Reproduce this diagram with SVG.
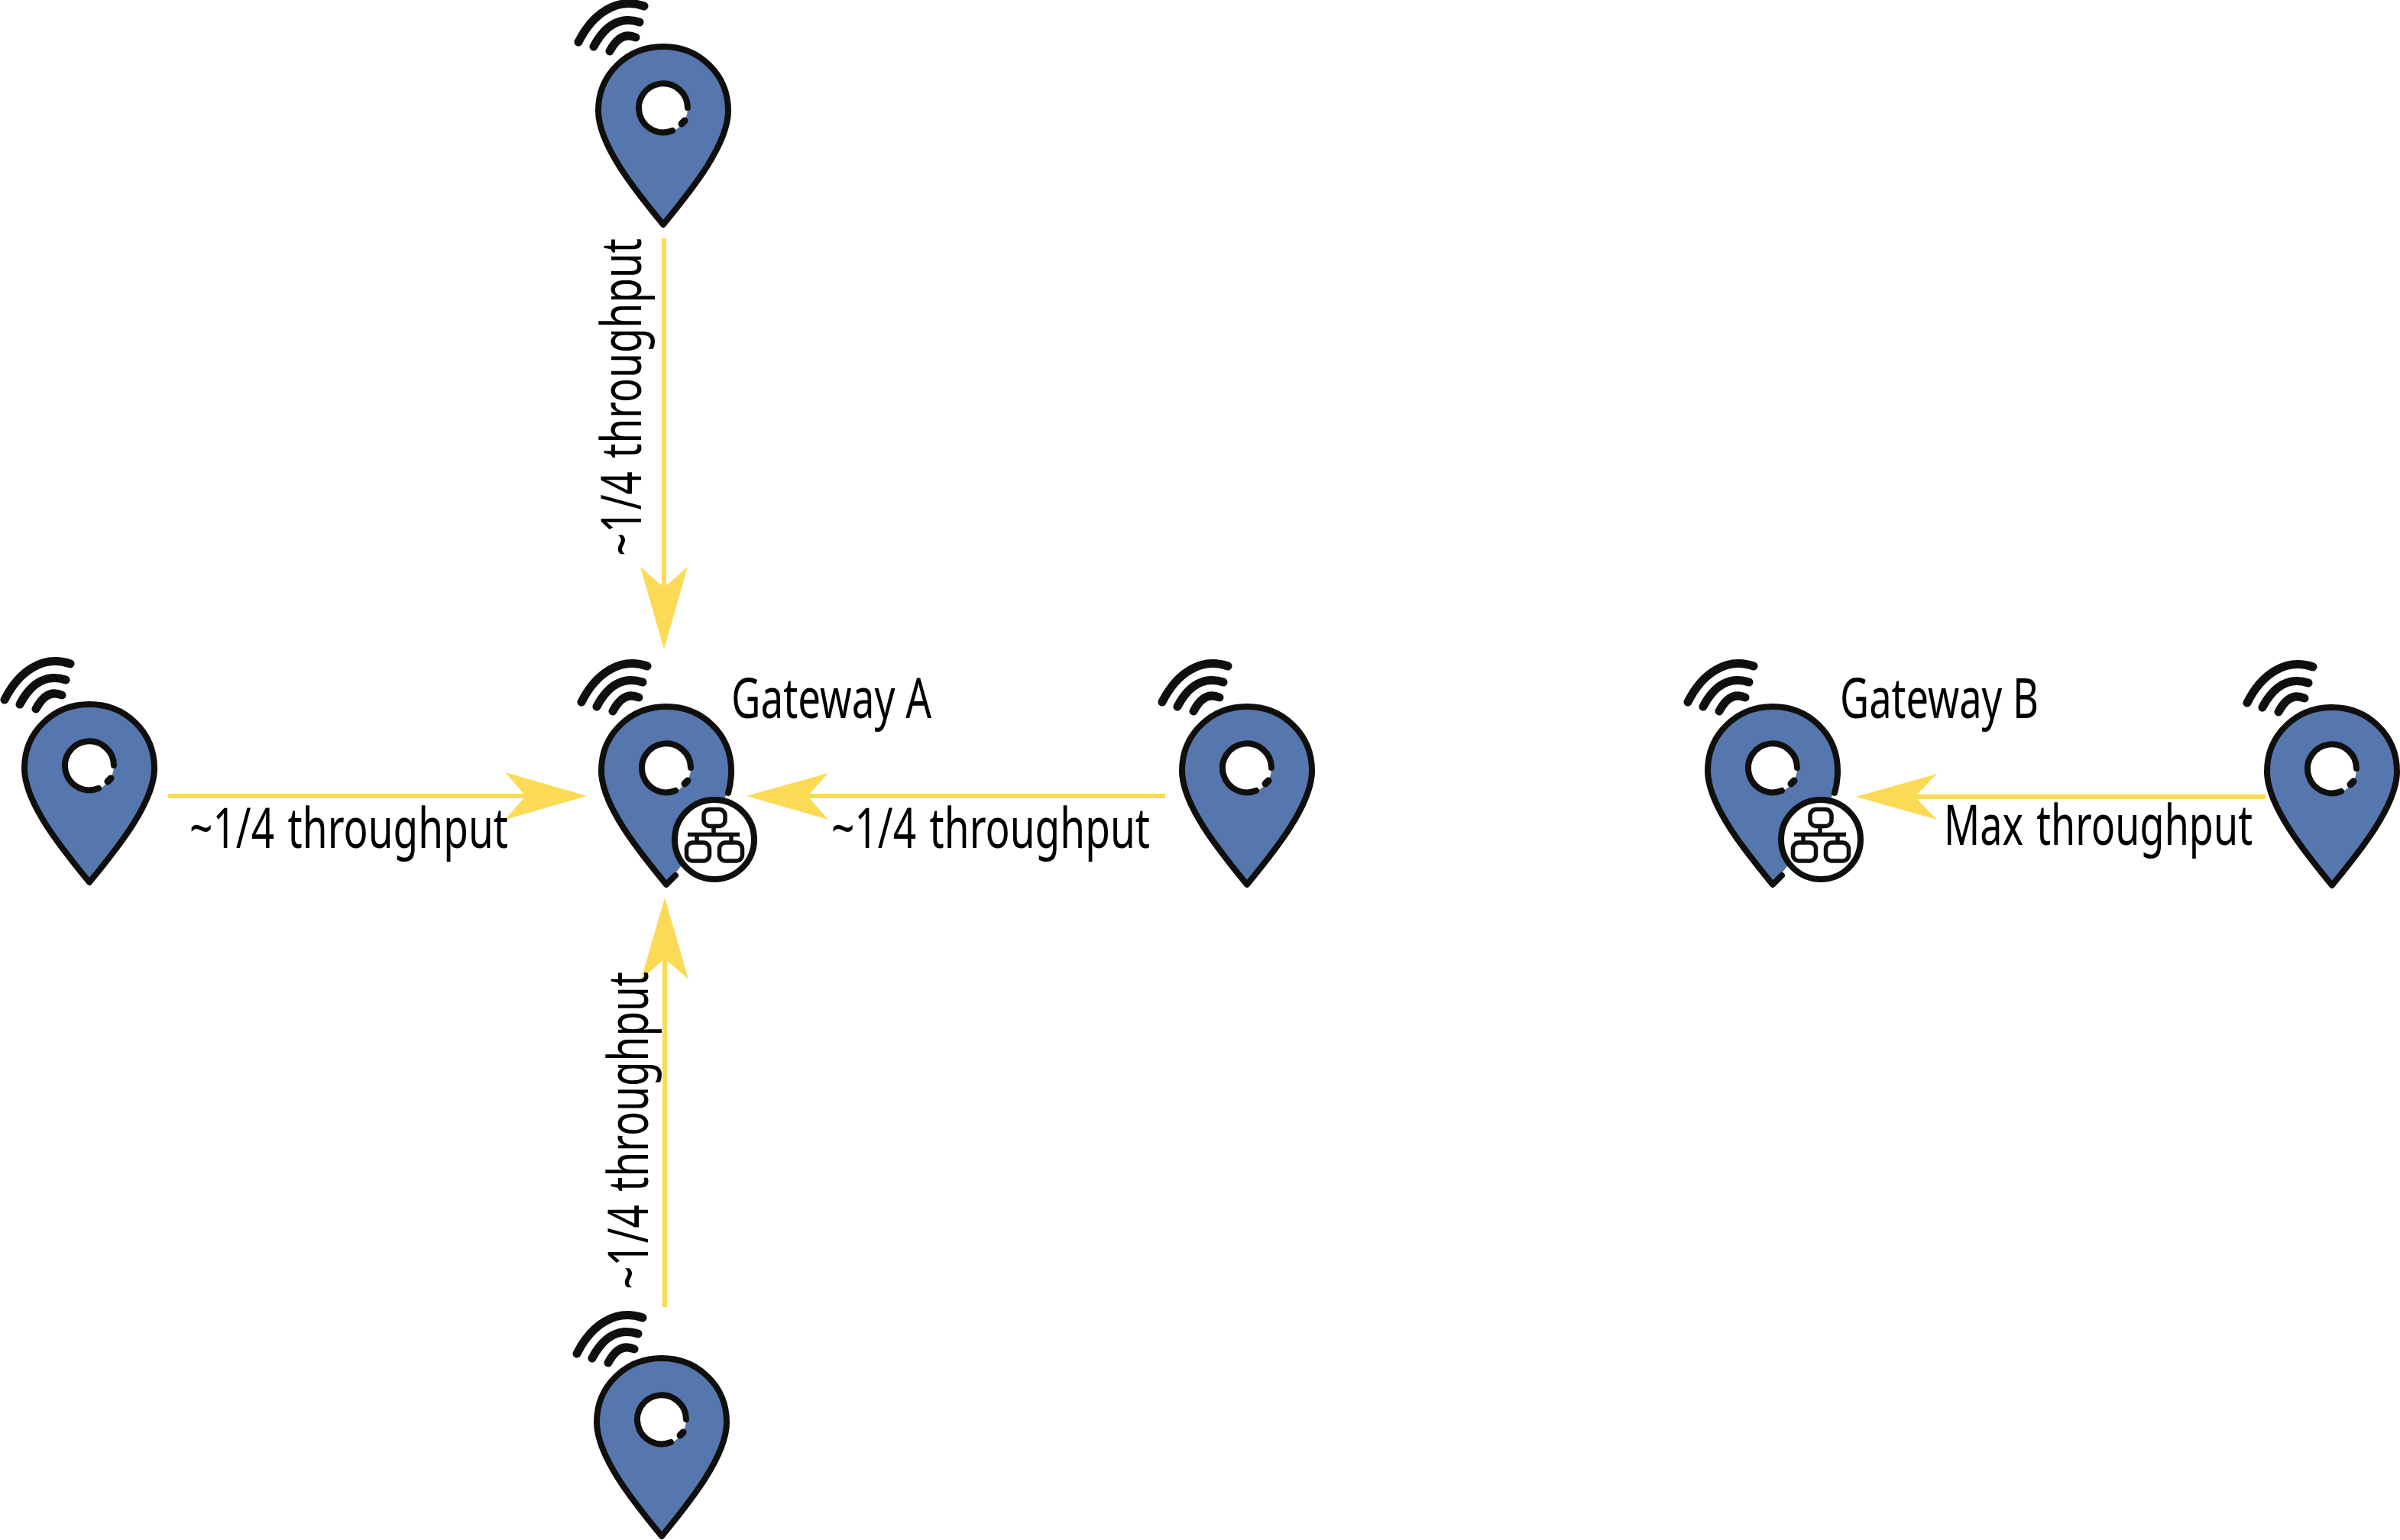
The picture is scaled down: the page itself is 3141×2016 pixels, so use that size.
<svg xmlns="http://www.w3.org/2000/svg" width="3141" height="2016" viewBox="0 0 3141 2016">
<style>
.k{fill:none;stroke:#100f0d;stroke-linecap:round;stroke-linejoin:round}
.t{font-family:"Noto Sans","Liberation Sans",sans-serif;font-size:73px;fill:#000}
.w{word-spacing:5px}
.c{fill:none;stroke:#fbdb55;stroke-width:6}
.h{fill:#fbdb55}
</style>
<defs>
<g id="wifi">
<path class="k" stroke-width="11" d="M-111,-87C-92,-125 -60,-146 -25,-134"/>
<path class="k" stroke-width="11" d="M-91,-81C-76,-110 -55,-121 -31,-113"/>
<path class="k" stroke-width="11" d="M-70,-75C-61,-92 -50,-99 -36,-93"/>
</g>
<g id="hole">
<circle r="32" fill="#fff"/>
<path class="k" stroke-width="8" d="M32,-1A32,32 0 1 0 12,29"/>
<path class="k" stroke-width="9" d="M24,20L28,16"/>
</g>
<g id="pin">
<use href="#wifi"/>
<path fill="#5577ae" stroke="#100f0d" stroke-width="8" stroke-linejoin="round" d="M0,152C-30,115 -85,50 -85,3C-85,-45 -47,-81 0,-81C47,-81 85,-45 85,3C85,50 30,115 0,152Z"/>
<use href="#hole"/>
</g>
<g id="gwpin">
<use href="#wifi"/>
<path fill="#5577ae" d="M0,152C-30,115 -85,50 -85,3C-85,-45 -47,-81 0,-81C47,-81 85,-45 85,3C85,50 30,115 0,152Z"/>
<path class="k" stroke-width="8" d="M12,140L0,152C-30,115 -85,50 -85,3C-85,-45 -47,-81 0,-81C47,-81 85,-45 85,3C85,14 84,22 81,32"/>
<use href="#hole"/>
<circle cx="63" cy="93" r="52" fill="#fff" stroke="#100f0d" stroke-width="8"/>
<g transform="translate(63,93)" fill="none" stroke="#100f0d" stroke-width="5.500">
<rect x="-14" y="-39.500" width="28" height="22" rx="8"/>
<path d="M-1,-18V-6"/>
<path d="M-35,-6.500H33"/>
<path d="M-23,-6V4M22,-6V4"/>
<rect x="-36.500" y="4" width="30" height="24" rx="8"/>
<rect x="6.500" y="4" width="30" height="24" rx="8"/>
</g>
</g>
</defs>
<g id="connectors">
<path class="c" d="M869,312V790"/><polygon class="h" points="869,850 838,742 869,769 900,742"/>
<path class="c" d="M220,1042H710"/><polygon class="h" points="768,1042 661,1011 688,1042 661,1073"/>
<path class="c" d="M1525,1042H1030"/><polygon class="h" points="977,1042 1084,1012 1057,1042 1084,1073"/>
<path class="c" d="M870,1711V1230"/><polygon class="h" points="870,1175 839,1282 870,1255 901,1282"/>
<path class="c" d="M2965,1043H2480"/><polygon class="h" points="2429,1043 2535,1013 2506,1043 2535,1073"/>
</g>
<g id="sensor-top"><use href="#pin" x="868" y="142"/></g>
<g id="sensor-left"><use href="#pin" x="117" y="1003"/></g>
<g id="sensor-right"><use href="#pin" x="1632" y="1006"/></g>
<g id="sensor-bottom"><use href="#pin" x="866" y="1859"/></g>
<g id="sensor-far"><use href="#pin" x="3052" y="1007"/></g>
<g id="gateway-a"><use href="#gwpin" x="872" y="1006"/><text class="t" x="957" y="940" textLength="262" lengthAdjust="spacingAndGlyphs">Gateway A</text></g>
<g id="gateway-b"><use href="#gwpin" x="2320" y="1006"/><text class="t" x="2408" y="940" textLength="260" lengthAdjust="spacingAndGlyphs">Gateway B</text></g>
<g id="labels">
<text class="t w" x="248" y="1110" textLength="417" lengthAdjust="spacingAndGlyphs">~1/4 throughput</text>
<text class="t w" x="1088" y="1110" textLength="417" lengthAdjust="spacingAndGlyphs">~1/4 throughput</text>
<text class="t w" x="2544" y="1106" textLength="404" lengthAdjust="spacingAndGlyphs">Max throughput</text>
<text class="t w" transform="translate(839,728) rotate(-90)" textLength="416" lengthAdjust="spacingAndGlyphs">~1/4 throughput</text>
<text class="t w" transform="translate(848,1688) rotate(-90)" textLength="416" lengthAdjust="spacingAndGlyphs">~1/4 throughput</text>
</g>
</svg>
